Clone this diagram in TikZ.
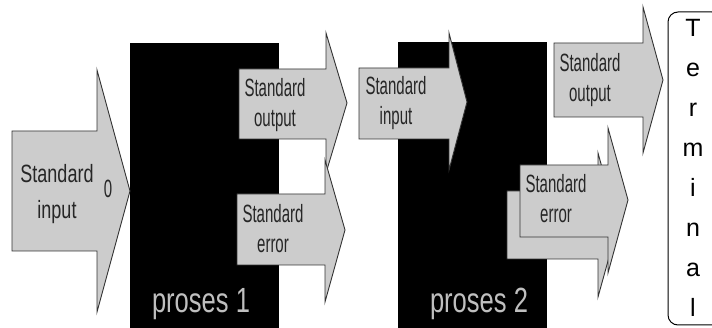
\documentclass[tikz,border=0pt]{standalone}
\usepackage{fontspec}
\setmainfont{Liberation Sans}
\usepackage{graphicx}
\newcommand{\twoline}[3]{\scalebox{#1}[1]{\begin{tabular}{@{}c@{}}#2\\#3\end{tabular}}}

\begin{document}
\begin{tikzpicture}[x=1pt, y=-1pt,
  pipe/.style={draw=black!80, line width=0.9pt, fill=black!20, line join=miter},
  proc/.style={fill=black},
  lbl/.style={inner sep=0pt, text=black!85, font=\fontsize{25}{30}\selectfont},
  proclbl/.style={anchor=base, inner sep=0pt, text=black!25, font=\fontsize{35}{40}\selectfont},
  letter/.style={anchor=base, inner sep=0pt, text=black, font=\fontsize{25}{30}\selectfont}]
  \useasboundingbox (0,0) rectangle (712,328);

  % Process 1
  \fill[proc] (130,43) rectangle (279,332);
  \node[proclbl] (p1) at (201,313) {\scalebox{0.73}[1]{proses 1}};
  % Standard input into process 1
  \draw[pipe] (12,131) -- (97,131) -- (97,70) -- (130,191) -- (97,312) -- (97,251) -- (12,251) -- cycle;
  \node[lbl, font=\fontsize{25}{36}\selectfont] (in1) at (57,193) {\twoline{0.72}{Standard}{input}};
  \node[lbl] (fd0) at (108,189) {\scalebox{0.6}[1]{0}};
  % Standard output and error of process 1
  \draw[pipe] (239,69) -- (326,69) -- (326,33) -- (347,103) -- (326,173) -- (326,139) -- (239,139) -- cycle;
  \node[lbl] (out1) at (275,106) {\twoline{0.6}{Standard}{output}};
  \draw[pipe] (237,194) -- (325,194) -- (325,160) -- (345,230) -- (325,302) -- (325,265) -- (237,265) -- cycle;
  \node[lbl] (err1) at (273,232) {\twoline{0.6}{Standard}{error}};

  % Process 2
  \fill[proc] (398,42) rectangle (547,332);
  \node[proclbl] (p2) at (479,313) {\scalebox{0.73}[1]{proses 2}};
  % Standard input into process 2
  \draw[pipe] (359,68) -- (449,68) -- (449,33) -- (467,102) -- (449,170) -- (449,139) -- (359,139) -- cycle;
  \node[lbl] (in2) at (396,104) {\twoline{0.6}{Standard}{input}};
  % Standard output and error of process 2
  \draw[pipe] (554,43) -- (643,43) -- (643,7) -- (663,80) -- (643,153) -- (643,117) -- (554,117) -- cycle;
  \node[lbl] (out2) at (590,81) {\twoline{0.6}{Standard}{output}};
  \draw[pipe] (507,191) -- (598,191) -- (598,153) -- (618,225) -- (598,297) -- (598,259) -- (507,259) -- cycle;
  \draw[pipe] (520,165) -- (608,165) -- (608,128) -- (628,200) -- (608,273) -- (608,237) -- (520,237) -- cycle;
  \node[lbl] (err2) at (556,202) {\twoline{0.6}{Standard}{error}};

  % Terminal
  \draw[line width=1pt, rounded corners=10pt] (668,12) rectangle (722,325);
  \foreach \ch [count=\k from 0] in {T,e,r,m,i,n,a,l}
    \node[letter] (t\k) at (693,{37+40*\k}) {\ch};
\end{tikzpicture}
\end{document}
